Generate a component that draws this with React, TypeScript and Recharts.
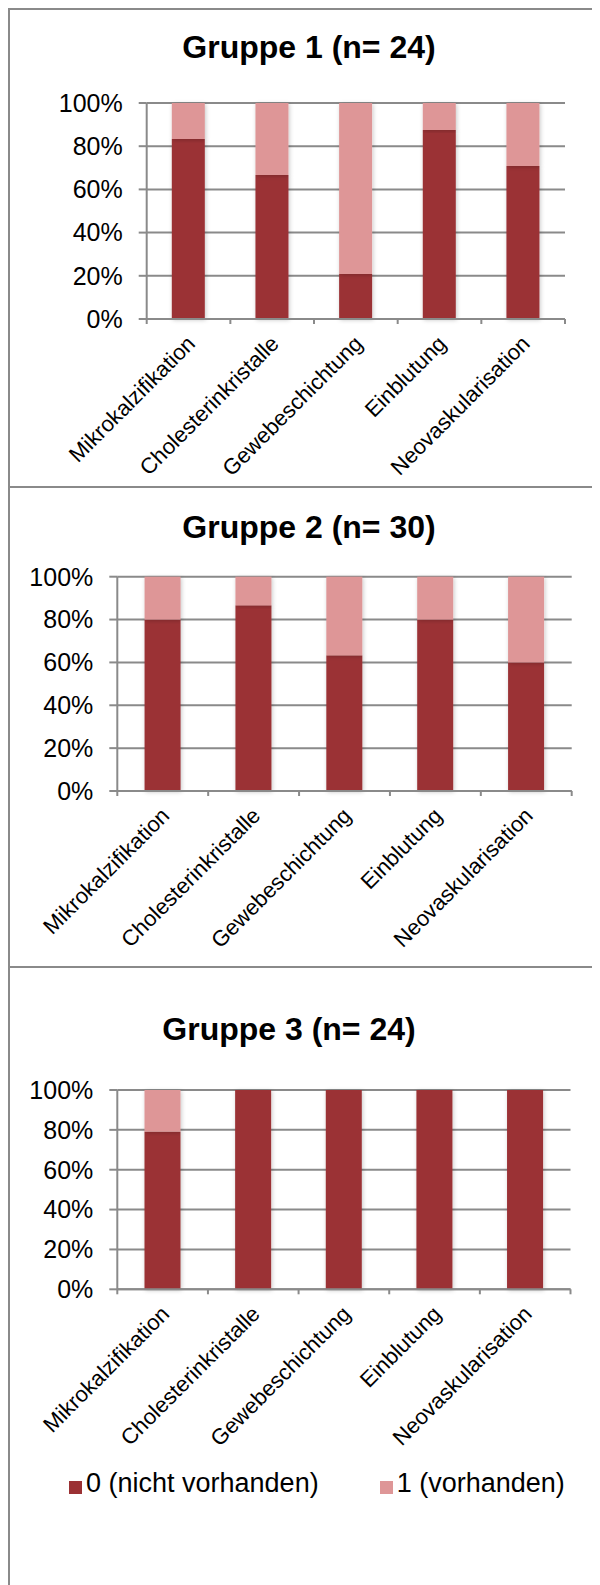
import React from "react";
import { BarChart, Bar, XAxis, YAxis, CartesianGrid, Legend } from "recharts";

// Befunde je Gruppe (Anzahl Patienten)
const categories = [
  "Mikrokalzifikation",
  "Cholesterinkristalle",
  "Gewebeschichtung",
  "Einblutung",
  "Neovaskularisation",
];

const gruppe1Nicht = [20, 16, 5, 21, 17];
const gruppe1Vorh = [4, 8, 19, 3, 7];

const gruppe2Nicht = [24, 26, 19, 24, 18];
const gruppe2Vorh = [6, 4, 11, 6, 12];

const gruppe3Nicht = [19, 24, 24, 24, 24];
const gruppe3Vorh = [5, 0, 0, 0, 0];

const seriesNames = ["0 (nicht vorhanden)", "1 (vorhanden)"];
const yTicks = [0, 0.2, 0.4, 0.6, 0.8, 1];

const DARK = "#9b3134";
const LIGHT = "#de9697";
const GREY = "#8a8a8a";
const FONT = "'Liberation Sans', Arial, Helvetica, sans-serif";
const CHART_W = 592;

const buildRows = (nicht: number[], vorh: number[]) =>
  categories.map((name, i) => ({ name, nicht: nicht[i], vorh: vorh[i] }));

interface PanelDef {
  id: string;
  title: string;
  nicht: number[];
  vorh: number[];
  top: number;
  height: number;
  margin: { top: number; right: number; left: number; bottom: number };
  yAxisWidth: number;
  xAxisHeight: number;
  titleTop: number;
  titleCenter: number;
  legend?: boolean;
}

const panels: PanelDef[] = [
  {
    id: "g1",
    title: "Gruppe 1 (n= 24)",
    nicht: gruppe1Nicht,
    vorh: gruppe1Vorh,
    top: 0,
    height: 478,
    margin: { top: 95, right: 35, left: 0, bottom: 0 },
    yAxisWidth: 138.7,
    xAxisHeight: 167,
    titleTop: 22.9,
    titleCenter: 301,
  },
  {
    id: "g2",
    title: "Gruppe 2 (n= 30)",
    nicht: gruppe2Nicht,
    vorh: gruppe2Vorh,
    top: 478,
    height: 480,
    margin: { top: 90.7, right: 28.3, left: 0, bottom: 0 },
    yAxisWidth: 109.3,
    xAxisHeight: 175,
    titleTop: 503.4,
    titleCenter: 301,
  },
  {
    id: "g3",
    title: "Gruppe 3 (n= 24)",
    nicht: gruppe3Nicht,
    vorh: gruppe3Vorh,
    top: 958,
    height: 619,
    margin: { top: 124, right: 29.5, left: 0, bottom: 0 },
    yAxisWidth: 109.3,
    xAxisHeight: 295.7,
    titleTop: 1005,
    titleCenter: 281,
    legend: true,
  },
];

// category label rotated 45°, plus tick marks between the categories
const CategoryTick = (props: any) => {
  const { x, y, payload, index, band, count } = props;
  const left = x - band / 2;
  const ax = x + 8;
  const ay = y + 26;
  return (
    <g>
      <line x1={left} y1={y} x2={left} y2={y + 5} stroke={GREY} strokeWidth={2} />
      {index === count - 1 && (
        <line x1={x + band / 2} y1={y} x2={x + band / 2} y2={y + 5} stroke={GREY} strokeWidth={2} />
      )}
      <text
        x={ax}
        y={ay}
        transform={`rotate(-45, ${ax}, ${ay})`}
        textAnchor="end"
        fontSize={22}
        fill="#000"
      >
        {payload.value}
      </text>
    </g>
  );
};

const shadowShape = (filterId: string) => (p: any) =>
  p.height > 0 ? (
    <rect
      x={p.x}
      y={p.y}
      width={p.width}
      height={p.height}
      fill={p.fill}
      filter={`url(#${filterId})`}
    />
  ) : null;

const Panel: React.FC<{ def: PanelDef }> = ({ def }) => {
  const data = buildRows(def.nicht, def.vorh);
  const plotW = CHART_W - def.margin.left - def.margin.right - def.yAxisWidth;
  const band = plotW / categories.length;
  const filterId = `barShadow-${def.id}`;

  return (
    <>
      <div
        style={{
          position: "absolute",
          left: def.titleCenter - 200,
          top: def.titleTop,
          width: 400,
          textAlign: "center",
          fontSize: 32,
          lineHeight: "32px",
          fontWeight: "bold",
          color: "#000",
        }}
      >
        {def.title}
      </div>
      <div style={{ position: "absolute", left: 0, top: def.top }}>
        <BarChart
          width={CHART_W}
          height={def.height}
          data={data}
          margin={def.margin}
          stackOffset="expand"
          barCategoryGap="30%"
        >
          <defs>
            <filter id={filterId} x="-30%" y="-10%" width="160%" height="120%">
              <feDropShadow dx="1" dy="1" stdDeviation="2" floodColor="#000" floodOpacity="0.22" />
            </filter>
          </defs>
          <CartesianGrid vertical={false} stroke={GREY} strokeWidth={2} />
          <XAxis
            dataKey="name"
            interval={0}
            height={def.xAxisHeight}
            axisLine={{ stroke: GREY, strokeWidth: 2 }}
            tickLine={false}
            tickSize={0}
            tickMargin={0}
            tick={(p: any) => <CategoryTick {...p} band={band} count={categories.length} />}
          />
          <YAxis
            type="number"
            domain={[0, 1]}
            ticks={yTicks}
            width={def.yAxisWidth}
            tickSize={8}
            tickMargin={16}
            axisLine={{ stroke: GREY, strokeWidth: 2 }}
            tickLine={{ stroke: GREY, strokeWidth: 2 }}
            tick={{ fontSize: 25, fill: "#000" }}
            tickFormatter={(v: number) => `${Math.round(v * 100)}%`}
          />
          <Bar
            dataKey="nicht"
            name={seriesNames[0]}
            stackId="a"
            fill={DARK}
            shape={shadowShape(filterId)}
            isAnimationActive={false}
          />
          <Bar
            dataKey="vorh"
            name={seriesNames[1]}
            stackId="a"
            fill={LIGHT}
            shape={shadowShape(filterId)}
            isAnimationActive={false}
          />
          {def.legend && (
            <Legend
              layout="horizontal"
              verticalAlign="middle"
              align="center"
              iconType="square"
              iconSize={13}
              wrapperStyle={{ top: 502, left: 61, width: "max-content" }}
              formatter={(value: string, _entry: any, index: number) => (
                <span
                  style={{
                    color: "#000",
                    fontSize: 27,
                    marginRight: index === 0 ? 51 : 0,
                  }}
                >
                  {value}
                </span>
              )}
            />
          )}
        </BarChart>
      </div>
    </>
  );
};

export default function App() {
  return (
    <div
      style={{
        position: "relative",
        width: CHART_W,
        height: 1577,
        fontFamily: FONT,
        overflow: "hidden",
      }}
    >
      {/* frame lines around the three panels */}
      <div style={{ position: "absolute", left: 0, top: 0, width: 2, height: 1577, background: GREY }} />
      <div style={{ position: "absolute", left: 0, top: 0, width: CHART_W, height: 2, background: GREY }} />
      <div style={{ position: "absolute", left: 0, top: 478, width: CHART_W, height: 2, background: GREY }} />
      <div style={{ position: "absolute", left: 0, top: 958, width: CHART_W, height: 2, background: GREY }} />
      {panels.map((def) => (
        <Panel key={def.id} def={def} />
      ))}
    </div>
  );
}
